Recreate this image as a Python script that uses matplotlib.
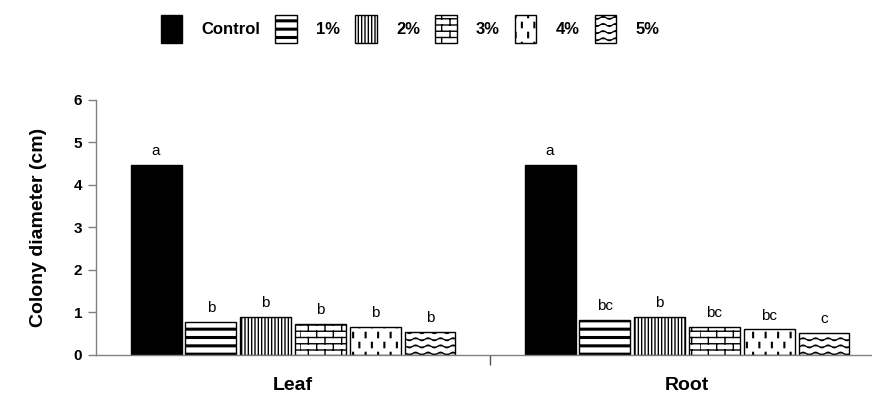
"""Colony diameter bar chart — leaf vs root extract concentrations."""
import warnings

import numpy as np
import matplotlib
matplotlib.use("Agg")
import matplotlib.pyplot as plt
from matplotlib import hatch as mhatch
from matplotlib.path import Path

warnings.filterwarnings("ignore", message=".*hatch must consist.*")

plt.rcParams["font.family"] = ["Liberation Sans", "DejaVu Sans"]

# ---- data -----------------------------------------------------------------
categories = ["Leaf", "Root"]
treatments = ["Control", "1%", "2%", "3%", "4%", "5%"]
leaf_values = [4.48, 0.77, 0.89, 0.74, 0.67, 0.54]
root_values = [4.48, 0.83, 0.89, 0.67, 0.60, 0.51]
leaf_letters = ["a", "b", "b", "b", "b", "b"]
root_letters = ["a", "bc", "b", "bc", "bc", "c"]


# ---- custom hatch patterns (bricks, dashes, waves) ------------------------
class BrickHatch(mhatch.HatchPatternBase):
    rows, cols = 16, 6

    def __init__(self, hatch, density):
        on = "B" in hatch
        self.num_vertices = (self.rows * 2 + self.rows * self.cols * 2) if on else 0

    def set_vertices_and_codes(self, vertices, codes):
        segs = []
        for i in range(self.rows):
            y0, y1 = i / self.rows, (i + 1) / self.rows
            segs.append(((0.0, y0), (1.0, y0)))
            for j in range(self.cols):
                x = (j + 0.5 * (i % 2)) / self.cols
                segs.append(((x, y0), (x, y1)))
        vertices[:] = np.array(segs).reshape(-1, 2)
        codes[0::2] = Path.MOVETO
        codes[1::2] = Path.LINETO


class DashHatch(mhatch.HatchPatternBase):
    rows, cols, dash = 10, 8, 0.045

    def __init__(self, hatch, density):
        on = "D" in hatch
        self.num_vertices = self.rows * self.cols * 2 if on else 0

    def set_vertices_and_codes(self, vertices, codes):
        segs = []
        for i in range(self.rows):
            yc = (i + 0.5) / self.rows
            for j in range(self.cols):
                x = (j + 0.25 + 0.5 * (i % 2)) / self.cols
                segs.append(((x, yc - self.dash / 2), (x, yc + self.dash / 2)))
        vertices[:] = np.array(segs).reshape(-1, 2)
        codes[0::2] = Path.MOVETO
        codes[1::2] = Path.LINETO


class WaveHatch(mhatch.HatchPatternBase):
    rows, waves, npts, amp = 14, 8, 65, 0.014

    def __init__(self, hatch, density):
        on = "W" in hatch
        self.num_vertices = self.rows * self.npts if on else 0

    def set_vertices_and_codes(self, vertices, codes):
        xs = np.linspace(0.0, 1.0, self.npts)
        for i in range(self.rows):
            sl = slice(i * self.npts, (i + 1) * self.npts)
            vertices[sl, 0] = xs
            vertices[sl, 1] = (i + 0.5) / self.rows + self.amp * np.sin(2 * np.pi * self.waves * xs)
            codes[sl] = Path.LINETO
            codes[i * self.npts] = Path.MOVETO


mhatch._hatch_types.extend([BrickHatch, DashHatch, WaveHatch])

hatches = [None, "--", "|||||", "B", "D", "W"]
hatch_widths = [1.0, 2.2, 1.0, 1.0, 1.5, 0.9]

# ---- figure ---------------------------------------------------------------
fig = plt.figure(figsize=(8.72, 3.99), dpi=100)
ax = fig.add_axes([0.1101, 0.1103, 0.9037, 0.6391])

x = np.arange(len(categories))
step, width = 0.139, 0.129
series = list(zip(leaf_values, root_values))
letters = list(zip(leaf_letters, root_letters))
handles = []
for i, name in enumerate(treatments):
    vals = series[i]
    pos = x + (i - 2.5) * step
    bars = ax.bar(pos, vals, width, color="black" if i == 0 else "white",
                  edgecolor="black", linewidth=1.0, hatch=hatches[i], label=name)
    for b in bars:
        if hasattr(b, "set_hatch_linewidth"):
            b.set_hatch_linewidth(hatch_widths[i])
    handles.append(bars)
    for p, v, lab in zip(pos, vals, letters[i]):
        ax.annotate(lab, (p, v), xytext=(0, 5), textcoords="offset points",
                    ha="center", va="bottom", fontsize=11)

ax.set_xlim(-0.5, 1.5)
ax.set_ylim(0, 6)
ax.set_yticks(range(7))
ax.set_xticks(x)
ax.set_xticklabels(categories, fontsize=14, fontweight="bold")
ax.set_xticks([0.5], minor=True)
ax.tick_params(axis="x", which="major", length=0, pad=16)
ax.tick_params(axis="x", which="minor", length=7, color="#555555", width=1)
ax.tick_params(axis="y", length=6, color="#808080", width=1, labelsize=11, pad=4)
for t in ax.get_yticklabels():
    t.set_fontweight("bold")
for s in ("top", "right"):
    ax.spines[s].set_visible(False)
for s in ("left", "bottom"):
    ax.spines[s].set_color("#808080")
    ax.spines[s].set_linewidth(1.0)

ax.set_ylabel("Colony diameter (cm)", fontsize=14, fontweight="bold")
ax.yaxis.set_label_coords(-0.062, 0.5)

leg = fig.legend(handles=handles, labels=treatments, loc="center",
                 bbox_to_anchor=(410 / 872, 1 - 29 / 399), ncol=6, frameon=False,
                 prop={"size": 12, "weight": "bold"}, handlelength=1.3,
                 handleheight=2.2, handletextpad=1.15, columnspacing=0.9)
for h, lw in zip(leg.legend_handles, hatch_widths):
    if hasattr(h, "set_hatch_linewidth"):
        h.set_hatch_linewidth(lw)

fig.savefig("out.png", dpi=100)
plt.close(fig)
